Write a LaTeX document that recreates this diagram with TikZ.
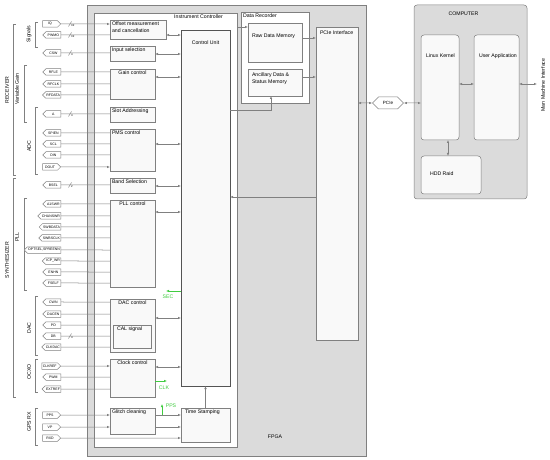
\documentclass[tikz,border=0pt]{standalone}
\usepackage{fontspec}
\setmainfont{Liberation Sans}
\usetikzlibrary{positioning}
\usetikzlibrary{calc}
\usetikzlibrary{arrows.meta}
\usetikzlibrary{shapes.symbols}
\definecolor{fpgagray}{rgb}{0.86,0.86,0.86}
\definecolor{boxwhite}{rgb}{0.975,0.975,0.975}
\definecolor{edge}{rgb}{0.5,0.5,0.5}
\definecolor{edgedark}{rgb}{0.33,0.33,0.33}
\definecolor{siggreen}{rgb}{0.25,0.8,0.25}

\tikzset{
  box/.style={draw=edge, line width=0.5pt, fill=boxwhite, anchor=north west, inner sep=0pt, outer sep=0pt},
  lbl/.style={font=\fontsize{5.2}{6.8}\selectfont, inner sep=1.8pt, align=left},
  tagin/.style={signal, signal to=east, draw=edge, line width=0.5pt, fill=white, anchor=east, minimum width=18pt,
    minimum height=6.5pt, inner sep=0.8pt, font=\fontsize{3.5}{3.8}\selectfont},
  tagout/.style={tagin, signal to=west},
  wire/.style={draw=edge, line width=0.5pt},
  feed/.style={wire, -{Latex[length=3pt,width=2.4pt]}},
  both/.style={wire, {Latex[length=3pt,width=2.4pt]}-{Latex[length=3pt,width=2.4pt]}},
  gfeed/.style={draw=siggreen, line width=0.5pt, -{Latex[length=3pt,width=2.4pt]}},
  grp/.style={font=\fontsize{5.2}{6}\selectfont, rotate=90},
}
\newcommand{\busmark}[4]{%
  \draw[wire] (#1-1.5,#2+2.5) -- (#1+1.5,#2-2.5);
  \node[font=\fontsize{2.8}{3}\selectfont, anchor=north west, inner sep=0pt] (#4) at (#1+1,#2+0.3) {#3};}
\newcommand{\grpbracket}[3]{\draw[edge, line width=0.5pt] (#1+3,#2) -- (#1,#2) -- (#1,#3) -- (#1+3,#3);}

\begin{document}
\begin{tikzpicture}[x=1pt, y=-1pt, every node/.style={font=\fontsize{5.2}{6.8}\selectfont}]
\useasboundingbox (0,0) rectangle (550,460);

      \node[box, fill=fpgagray, minimum width=279pt, minimum height=451pt] (fpga) at (87,5) {};
      \node (fpganame) at (275,437) {FPGA};

      \node[box, fill=white, minimum width=143pt, minimum height=434pt,
        label={[lbl, anchor=north, xshift=33pt]north:Instrument Controller}] (ctrl) at (94,13) {};

      \node[box, minimum width=56pt, minimum height=19pt,
        label={[lbl, anchor=north west]north west:Offset measurement\\and cancellation}] (offset) at (110,20) {};
      \node[box, minimum width=45pt, minimum height=15pt,
        label={[lbl, anchor=north west]north west:Input selection}] (input) at (110,46) {};
      \node[box, minimum width=45pt, minimum height=30pt,
        label={[lbl, anchor=north]north:Gain control}] (gain) at (110,69) {};
      \node[box, minimum width=45pt, minimum height=15pt,
        label={[lbl, anchor=north west]north west:Slot Addressing}] (slot) at (110,107) {};
      \node[box, minimum width=45pt, minimum height=42pt,
        label={[lbl, anchor=north west]north west:PMS control}] (pms) at (110,129) {};
      \node[box, minimum width=45pt, minimum height=15pt,
        label={[lbl, anchor=north west]north west:Band Selection}] (band) at (110,178) {};
      \node[box, minimum width=45pt, minimum height=87pt,
        label={[lbl, anchor=north]north:PLL control}] (pll) at (110,200) {};
      \node[box, minimum width=45pt, minimum height=53pt,
        label={[lbl, anchor=north]north:DAC control}] (dac) at (110,299) {};
      \node[box, minimum width=38pt, minimum height=23pt,
        label={[lbl, anchor=north west, xshift=2pt]north west:CAL signal}] (cal) at (113,325) {};
      \node[box, minimum width=45pt, minimum height=38pt,
        label={[lbl, anchor=north]north:Clock control}] (clock) at (110,359) {};
      \node[box, minimum width=45pt, minimum height=26pt,
        label={[lbl, anchor=north west]north west:Glitch cleaning}] (glitch) at (110,408) {};

      \node[box, draw=edgedark, line width=1pt, minimum width=49pt, minimum height=355pt,
        label={[lbl, anchor=north, yshift=-8pt]north:Control Unit}] (cu) at (181,31) {};
      \node[box, minimum width=49pt, minimum height=34pt,
        label={[lbl, anchor=north west, xshift=2pt]north west:Time Stamping}] (ts) at (181,408) {};

      \node[box, fill=white, minimum width=68pt, minimum height=91pt,
        label={[lbl, anchor=north west]north west:Data Recorder}] (rec) at (241,12) {};
      \node[box, minimum width=54pt, minimum height=39pt,
        label={[lbl, anchor=north west, xshift=2pt, yshift=-9pt]north west:Raw Data Memory}] (raw) at (248,23) {};
      \node[box, minimum width=54pt, minimum height=27pt,
        label={[lbl, anchor=north west, xshift=2pt, yshift=-2pt]north west:Ancillary Data \&\\Status Memory}] (anc) at (248,69) {};
      \node[box, minimum width=42pt, minimum height=313pt,
        label={[lbl, anchor=north west, xshift=2pt, yshift=-2pt]north west:PCIe Interface}] (pcie) at (316,27) {};

      \node[tagin, anchor=center, signal to=east and west, minimum width=31pt, minimum height=12pt,
        font=\fontsize{4.6}{5}\selectfont] (pcietag) at (388,103) {PCIe};

      \node[box, fill=fpgagray, rounded corners=3pt, minimum width=113pt, minimum height=194pt,
        label={[lbl, anchor=north, xshift=-7pt, yshift=-5pt]north:COMPUTER}] (comp) at (414,5) {};
      \node[box, rounded corners=3pt, minimum width=38pt, minimum height=105pt,
        label={[lbl, anchor=north west, xshift=3pt, yshift=-17pt]north west:Linux Kernel}] (linux) at (421,35) {};
      \node[box, rounded corners=3pt, minimum width=45pt, minimum height=105pt,
        label={[lbl, anchor=north west, xshift=3pt, yshift=-17pt]north west:User Application}] (user) at (474,35) {};
      \node[box, rounded corners=3pt, minimum width=60pt, minimum height=38pt,
        label={[lbl, anchor=north west, xshift=7pt, yshift=-14pt]north west:HDD Raid}] (hdd) at (421,156) {};
      \node[grp] (mmilabel) at (543,85) {Man Machine Interface};

      \grpbracket{13}{24}{175}
      \node[grp] (receiver) at (7,90) {RECEIVER};
      \grpbracket{35}{22}{47}
      \node[grp] (signals) at (29,34) {Signals};
      \grpbracket{24}{65}{122}
      \node[grp] (vargain) at (17,89) {Variable Gain};
      \grpbracket{35}{107}{174}
      \node[grp] (adc) at (29,146) {ADC};
      \grpbracket{13}{178}{397}
      \node[grp] (synth) at (7,260) {SYNTHESIZER};
      \grpbracket{24}{198}{290}
      \node[grp] (pllgrp) at (17,237) {PLL};
      \grpbracket{35}{296}{355}
      \node[grp] (dacgrp) at (29,328) {DAC};
      \grpbracket{35}{359}{392}
      \node[grp] (ocxo) at (29,372) {OCXO};
      \grpbracket{35}{408}{445}
      \node[grp] (gpsrx) at (29,422) {GPS RX};

      \node[tagin] (iq) at (61,24) {IQ};
      \node[tagout] (pwmo) at (61,35) {PWMO};
      \node[tagout] (csw) at (61,53) {CSW};
      \node[tagout] (rfle) at (61,72) {RFLE};
      \node[tagout] (rfclk) at (61,84) {RFCLK};
      \node[tagout] (rfdata) at (61,95) {RFDATA};
      \node[tagout] (addr) at (61,114) {A};
      \node[tagout] (spien) at (61,133) {SPIEN};
      \node[tagout] (scl) at (61,144) {SCL};
      \node[tagout] (din) at (61,155) {DIN};
      \node[tagin] (dout) at (61,167) {DOUT};
      \node[tagout] (bsel) at (61,185) {BSEL};
      \node[tagout] (aswr) at (61,204) {A1SWR};
      \node[tagout] (chanswr) at (61,216) {CHANSWR};
      \node[tagout] (swbdata) at (61,227) {SWBDATA};
      \node[tagout] (swbsclk) at (61,238) {SWBSCLK};
      \node[tagout] (optsel) at (61,250) {OPTSEL,SPREENN};
      \node[tagout] (icpwr) at (61,261) {ICP\_WR};
      \node[tagout] (enhn) at (61,272) {ENHN};
      \node[tagout] (fself) at (61,283) {FSELF};
      \node[tagout] (cwn) at (61,302) {CWN};
      \node[tagout] (dacen) at (61,314) {DACEN};
      \node[tagout] (pd) at (61,325) {PD};
      \node[tagout] (db) at (61,336) {DB};
      \node[tagout] (clkdac) at (61,347) {CLKDAC};
      \node[tagin] (clkref) at (61,366) {CLKREF};
      \node[tagout] (pwm) at (61,377) {PWM};
      \node[tagout] (extref) at (61,389) {EXTREF};
      \node[tagin] (pps) at (61,415) {PPS};
      \node[tagin] (vp) at (61,427) {VP};
      \node[tagin] (rxd) at (61,438) {RXD};

      \draw[feed] (iq) -- (iq -| offset.west);
      \draw[wire] (pwmo) -- (pwmo -| offset.west);
      \draw[wire] (csw) -- (csw -| input.west);
      \draw[wire] (rfle) -- (rfle -| gain.west);
      \draw[wire] (rfclk) -- (rfclk -| gain.west);
      \draw[wire] (rfdata) -- (rfdata -| gain.west);
      \draw[wire] (addr) -- (addr -| slot.west);
      \draw[wire] (spien) -- (spien -| pms.west);
      \draw[wire] (scl) -- (scl -| pms.west);
      \draw[wire] (din) -- (din -| pms.west);
      \draw[feed] (dout) -- (dout -| pms.west);
      \draw[wire] (bsel) -- (bsel -| band.west);
      \draw[wire] (aswr) -- (aswr -| pll.west);
      \draw[wire] (chanswr) -- (chanswr -| pll.west);
      \draw[wire] (swbdata) -- (swbdata -| pll.west);
      \draw[wire] (swbsclk) -- (swbsclk -| pll.west);
      \draw[wire] (optsel) -- (optsel -| pll.west);
      \draw[wire] (icpwr) -- (icpwr -| pll.west);
      \draw[wire] (enhn) -- (enhn -| pll.west);
      \draw[wire] (fself) -- (fself -| pll.west);
      \draw[wire] (cwn) -- (cwn -| dac.west);
      \draw[wire] (dacen) -- (dacen -| dac.west);
      \draw[wire] (pd) -- (pd -| dac.west);
      \draw[wire] (db) -- (db -| dac.west);
      \draw[wire] (clkdac) -- (clkdac -| dac.west);
      \draw[feed] (clkref) -- (clkref -| clock.west);
      \draw[wire] (pwm) -- (pwm -| clock.west);
      \draw[wire] (extref) -- (extref -| clock.west);
      \draw[feed] (pps) -- (pps -| glitch.west);
      \draw[feed] (vp) -- (vp -| glitch.west);
      \draw[feed] (rxd) -- (rxd -| ts.west);

      \busmark{70}{24}{32}{busiq}
      \busmark{70}{35}{32}{buspwmo}
      \busmark{70}{53}{4}{buscsw}
      \busmark{70}{114}{4}{busaddr}
      \busmark{70}{185}{2}{busbsel}
      \busmark{70}{336}{4}{busdb}

      \draw[both] (offset.east |- 0,35) -- (cu.west |- 0,35);
      \draw[both] (input.east |- 0,54) -- (cu.west |- 0,54);
      \draw[both] (gain.east |- 0,77) -- (cu.west |- 0,77);
      \draw[both] (pms.east |- 0,144) -- (cu.west |- 0,144);
      \draw[both] (band.east |- 0,186) -- (cu.west |- 0,186);
      \draw[both] (pll.east |- 0,212) -- (cu.west |- 0,212);
      \draw[both] (dac.east |- 0,318) -- (cu.west |- 0,318);
      \draw[both] (clock.east |- 0,367) -- (cu.west |- 0,367);

      \coordinate (secend) at (166,291);
      \draw[gfeed] (cu.west |- secend) -- (secend);
      \node[text=siggreen] (seclabel) at (168,297) {SEC};
      \coordinate (clkend) at (167,381);
      \draw[gfeed] (clock.east |- clkend) -- (clkend);
      \node[text=siggreen] (clklabel) at (164,388) {CLK};
      \coordinate (ppsend) at (162,404);
      \draw[gfeed] (ppsend |- 0,415) -- (ppsend);
      \node[text=siggreen] (ppslabel) at (171,406) {PPS};

      \draw[feed] (glitch.east |- 0,415) -- (ts.west |- 0,415);
      \draw[feed] (glitch.east |- 0,427) -- (ts.west |- 0,427);
      \draw[feed] (ts) -- (cu);

      \draw[feed] (ctrl.east |- 0,27) -- (raw.west |- 0,27);
      \draw[feed] (cu.east |- 0,110) -| ([xshift=-4pt]anc.south);
      \draw[feed] (raw.east |- 0,38) -- (pcie.west |- 0,38);
      \draw[feed] (anc.east |- 0,77) -- (pcie.west |- 0,77);
      \draw[feed] (pcie.west |- 0,197) -- (cu.east |- 0,197);
      \draw[both] (pcie.east |- pcietag) -- (pcietag);
      \draw[both] (pcietag) -- (pcietag -| linux.west);
      \draw[both] (linux.east |- 0,84) -- (user.west |- 0,84);
      \draw[both] ([xshift=-3pt]hdd.north |- linux.south) -- ([xshift=-3pt]hdd.north);
      \coordinate (mmi) at (537,84);
      \draw[both] (user.east |- mmi) -- (mmi);

\end{tikzpicture}
\end{document}
